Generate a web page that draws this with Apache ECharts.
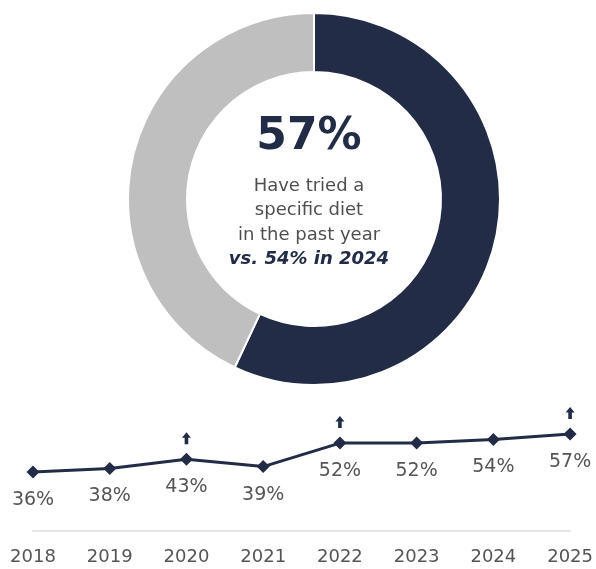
<!DOCTYPE html>
<html>
<head>
<meta charset="utf-8">
<title>Tried a specific diet</title>
<script src="https://cdn.jsdelivr.net/npm/echarts@6/dist/echarts.min.js"></script>
<style>
  html, body { margin: 0; padding: 0; background: #ffffff; }
  #chart { width: 596px; height: 569px; }
</style>
</head>
<body>
<div id="chart"></div>
<script>
// Share who tried a specific diet this year
const shareNames = ['Tried a specific diet', 'Did not'];
const shareValues = [57, 43];

// Headline block inside the ring
const headline = '57%';
const subLines = ['Have tried a', 'specific diet', 'in the past year'];
const compareLine = 'vs. 54% in 2024';

// Yearly trend
const years = ['2018', '2019', '2020', '2021', '2022', '2023', '2024', '2025'];
const trendValues = [36, 38, 43, 39, 52, 52, 54, 57];
// Years flagged with an upward arrow (significant increase)
const arrowYears = ['2020', '2022', '2025'];

const NAVY = '#232c47';
const GREY_RING = '#bfbfbf';
const TEXT_GREY = '#4f4f4f';
const FONT = '"DejaVu Sans", sans-serif';

const chart = echarts.init(document.getElementById('chart'), null, { renderer: 'canvas' });

const arrowData = trendValues.map((v, i) => arrowYears.includes(years[i]) ? v : '-');

const cx = 309;
const textGraphics = [
  {
    type: 'text', x: cx, y: 138,
    style: { text: headline, font: 'bold 44px ' + FONT, fill: NAVY, align: 'center', verticalAlign: 'middle' }
  }
];
subLines.forEach((line, i) => {
  textGraphics.push({
    type: 'text', x: cx, y: 186 + i * 24.5,
    style: { text: line, font: '18px ' + FONT, fill: TEXT_GREY, align: 'center', verticalAlign: 'middle' }
  });
});
textGraphics.push({
  type: 'text', x: cx, y: 186 + subLines.length * 24.5,
  style: { text: compareLine, font: 'italic bold 18px ' + FONT, fill: NAVY, align: 'center', verticalAlign: 'middle' }
});

const option = {
  animation: false,
  backgroundColor: '#ffffff',
  textStyle: { fontFamily: FONT },
  grid: { left: 33, right: 25, top: 400, bottom: 38, containLabel: false },
  xAxis: {
    type: 'category',
    data: years,
    boundaryGap: false,
    axisLine: { show: true, lineStyle: { color: '#e6e6e6', width: 2 } },
    axisTick: { show: false },
    splitLine: { show: false },
    axisLabel: { color: '#555555', fontSize: 18, fontFamily: FONT, margin: 17, interval: 0 }
  },
  yAxis: {
    type: 'value',
    min: 3.4,
    max: 75.8,
    show: false,
    splitLine: { show: false }
  },
  graphic: textGraphics,
  series: [
    {
      type: 'pie',
      center: [314, 199],
      radius: [127, 186],
      startAngle: 90,
      clockwise: true,
      silent: true,
      label: { show: false },
      labelLine: { show: false },
      itemStyle: { borderColor: '#ffffff', borderWidth: 2 },
      data: shareNames.map((n, i) => ({
        name: n,
        value: shareValues[i],
        itemStyle: { color: i === 0 ? NAVY : GREY_RING }
      }))
    },
    {
      type: 'line',
      data: trendValues,
      symbol: 'diamond',
      symbolSize: 13,
      lineStyle: { color: NAVY, width: 3 },
      itemStyle: { color: NAVY },
      label: {
        show: true,
        position: 'bottom',
        distance: 12,
        formatter: p => p.value + '%',
        color: '#555555',
        fontSize: 19,
        fontFamily: FONT
      },
      z: 3
    },
    {
      type: 'scatter',
      data: arrowData,
      symbol: 'path://M4.5,0 L9,5.5 L6.3,5.5 L6.3,12 L2.7,12 L2.7,5.5 L0,5.5 Z',
      symbolSize: [9, 12],
      symbolOffset: [0, -21],
      itemStyle: { color: NAVY, opacity: 1 },
      label: { show: false },
      z: 4
    }
  ]
};

chart.setOption(option);
</script>
</body>
</html>
